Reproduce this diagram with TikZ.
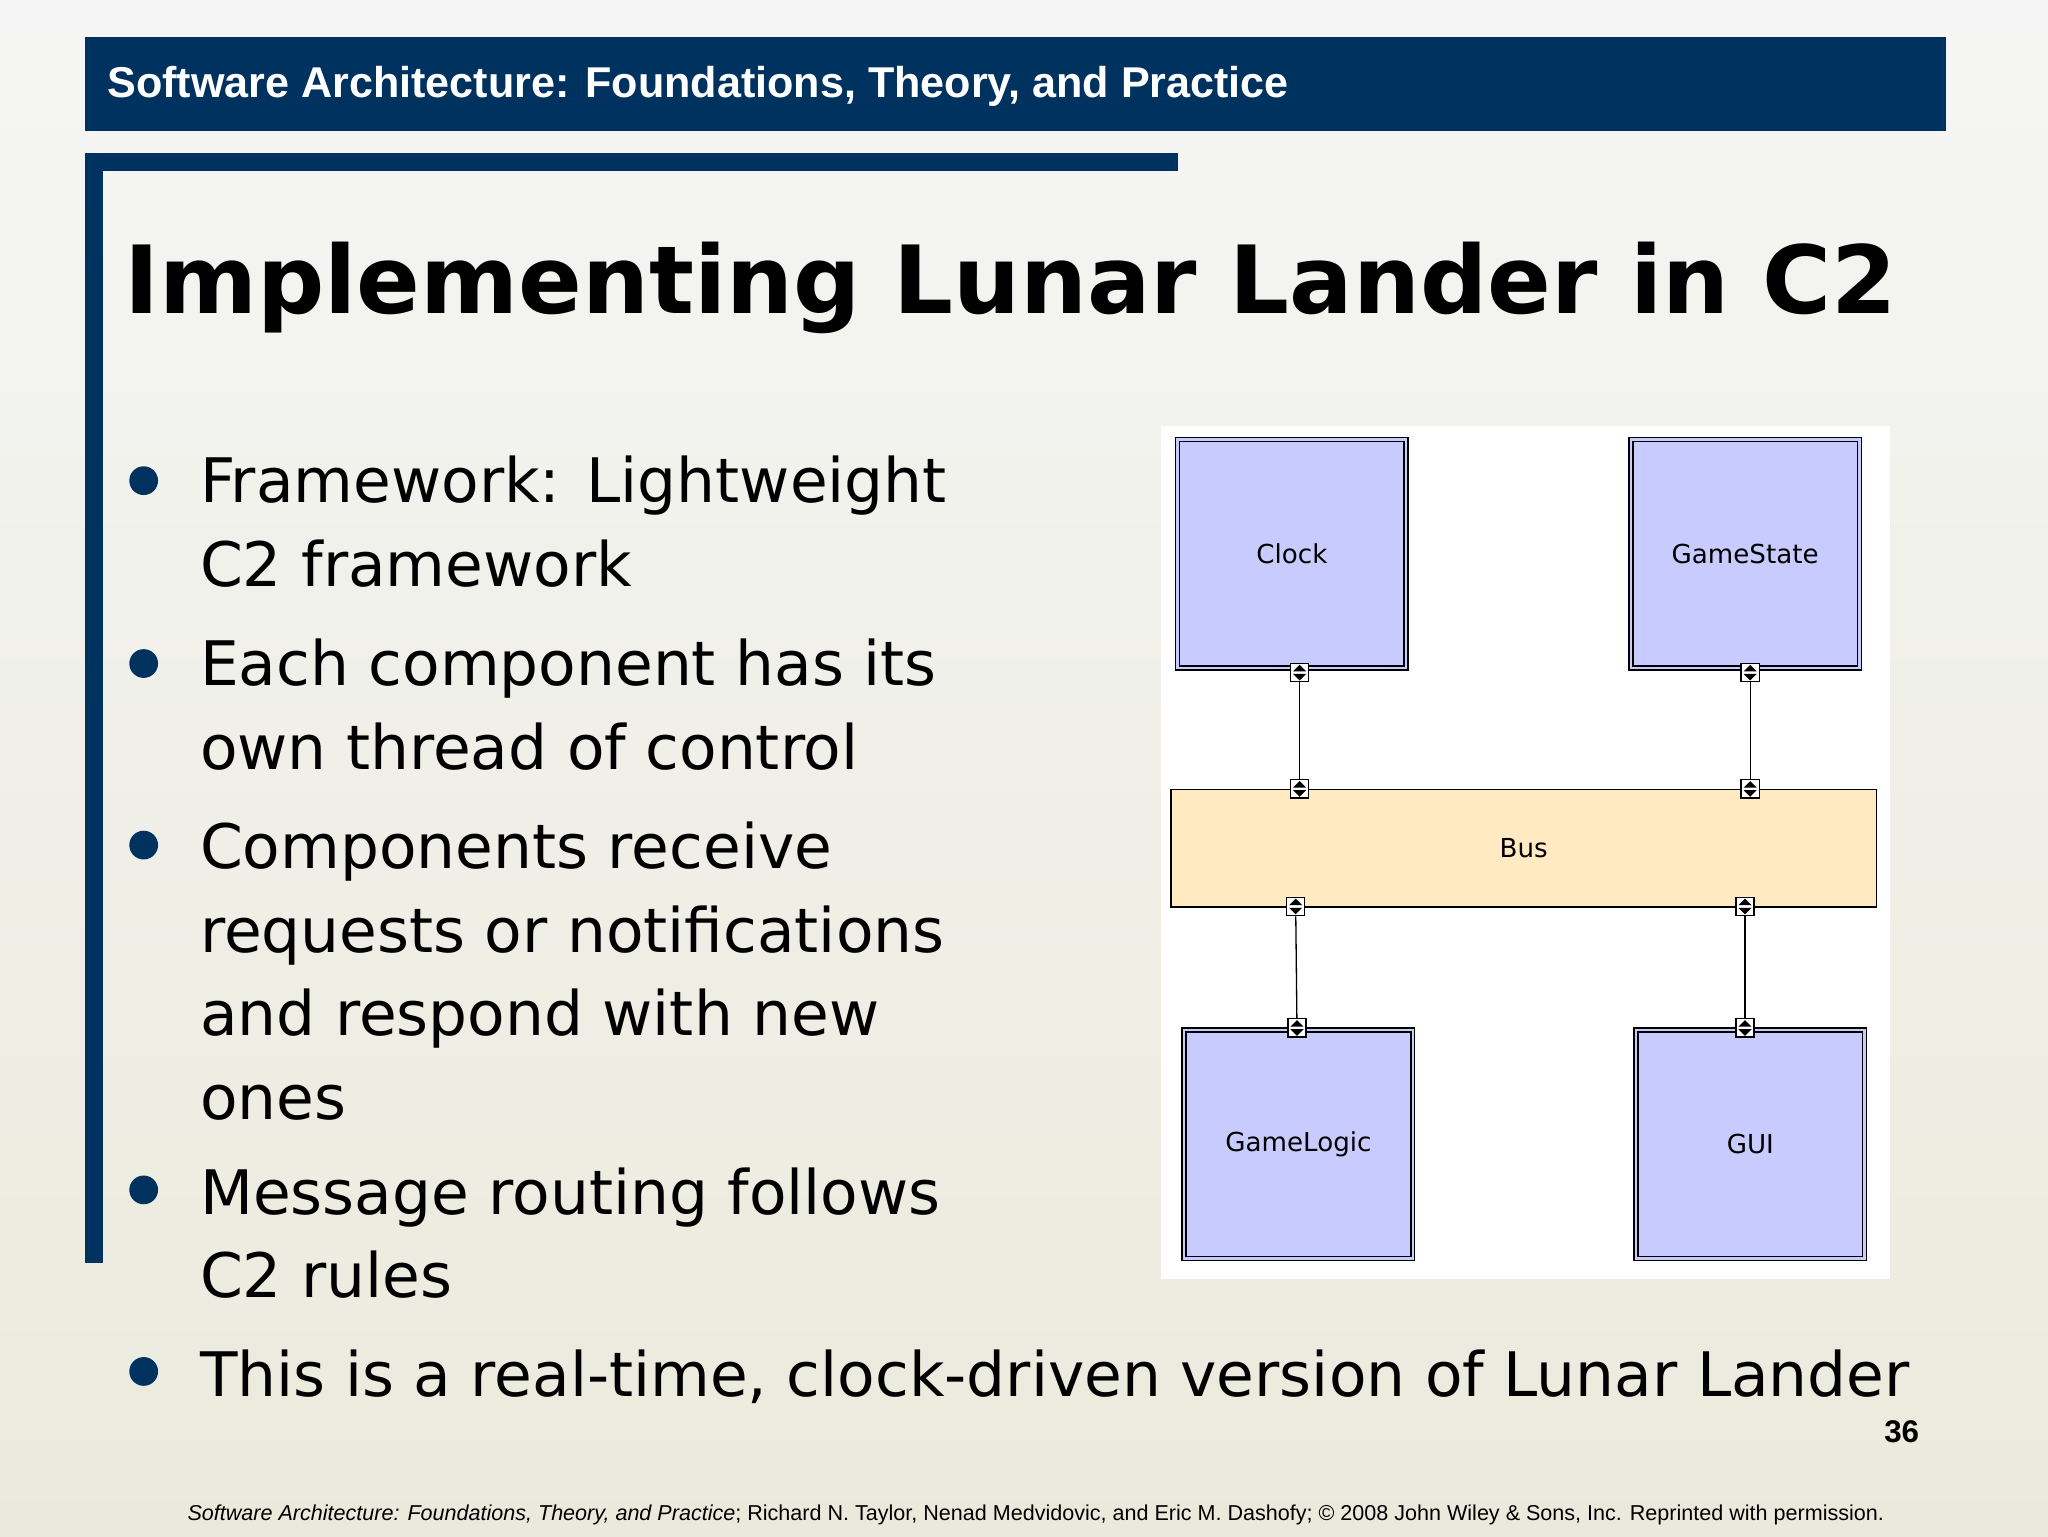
\documentclass[tikz,border=0pt]{standalone}
\usepackage{fontspec}
\setmainfont{DejaVu Sans}
\newfontfamily\arialf{Liberation Sans}
\newfontfamily\dejab{DejaVu Sans}
\begin{document}
\begin{tikzpicture}[x=1pt,y=-1pt,
  comp/.style={draw=black,line width=1.2pt,fill=compfill,double=compfill,double distance=1.8pt,minimum width=175pt,minimum height=175pt,anchor=north west,inner sep=0pt,font=\dejab\fontsize{20}{22}\selectfont},
  bullet/.style={anchor=base west,inner sep=0pt,font=\dejab\fontsize{47}{50}\selectfont,text=black},
  dot/.style={circle,fill=navy,minimum size=22pt,inner sep=0pt}]
\definecolor{navy}{HTML}{00325F}
\definecolor{compfill}{HTML}{C8CBFE}
\definecolor{busfill}{HTML}{FFEAC2}
\shade[top color=white!60!yellow!6!gray!8, bottom color=yellow!25!gray!22] (0,0) rectangle (1568,1176);
\useasboundingbox (0,0) rectangle (1568,1176);
% header
\fill[navy] (65,28) rectangle (1490,100);
\node[anchor=west,text=white,font=\arialf\bfseries\fontsize{33}{36}\selectfont,inner sep=0pt] (hdr) at (82,66) {Software Architecture: Foundations, Theory, and Practice};
\fill[navy] (65,117) rectangle (902,131);
\fill[navy] (65,117) rectangle (79,967);
\node[anchor=base west,inner sep=0pt,font=\dejab\bfseries\fontsize{72}{76}\selectfont] (title) at (95,240) {Implementing Lunar Lander in C2};
% bullets
\foreach \y/\n in {368/b1,508/b2,647/b3,911/b4,1050/b5}{\node[dot] (\n) at (110,\y) {};}
\node[bullet] (t1) at (153,385) {Framework: Lightweight};
\node[bullet] (t2) at (153,449) {C2 framework};
\node[bullet] (t3) at (153,525) {Each component has its};
\node[bullet] (t4) at (153,589) {own thread of control};
\node[bullet] (t5) at (153,665) {Components receive};
\node[bullet] (t6) at (153,729) {requests or notifications};
\node[bullet] (t7) at (153,793) {and respond with new};
\node[bullet] (t8) at (153,857) {ones};
\node[bullet] (t9) at (153,930) {Message routing follows};
\node[bullet] (t10) at (153,993) {C2 rules};
\node[bullet] (t11) at (153,1069) {This is a real-time, clock-driven version of Lunar Lander};
% diagram
\fill[white] (889,326) rectangle (1447,979);
\node[comp] (clock) at (901,336) {Clock};
\node[comp] (gs) at (1248,336) {GameState};
\node[comp] (gl) at (906,788) {GameLogic};
\node[comp] (gui) at (1252,788) {GUI};
\node[draw=black,line width=1.2pt,fill=busfill,minimum width=540pt,minimum height=90pt,anchor=north west,inner sep=0pt,font=\dejab\fontsize{20}{22}\selectfont] (bus) at (896,604) {Bus};
\foreach \n/\x/\y in {p1/995/515,p2/995/604,p3/1340/515,p4/1340/604,p5/992/694,p6/1336/694,p7/993/787,p8/1336/787}{
  \node[draw=black,line width=1pt,fill=white,minimum size=14pt,inner sep=0pt] (\n) at (\x,\y) {};
  \fill (\x-5,\y-1) -- (\x+5,\y-1) -- (\x,\y-6) -- cycle;
  \fill (\x-5,\y+1) -- (\x+5,\y+1) -- (\x,\y+6) -- cycle;
}
\draw[line width=1pt] (p1) -- (p2);
\draw[line width=1pt] (p3) -- (p4);
\draw[line width=1pt] (p5) -- (p7);
\draw[line width=1pt] (p6) -- (p8);
\node[font=\arialf\bfseries\fontsize{24}{26}\selectfont,inner sep=0pt] (pg) at (1456,1096) {36};
\node[anchor=base,inner sep=0pt,font=\arialf\fontsize{16.5}{18}\selectfont] (foot) at (793,1164) {\textit{Software Architecture: Foundations, Theory, and Practice}; Richard N. Taylor, Nenad Medvidovic, and Eric M. Dashofy; \copyright{} 2008 John Wiley \& Sons, Inc. Reprinted with permission.};
\end{tikzpicture}
\end{document}
